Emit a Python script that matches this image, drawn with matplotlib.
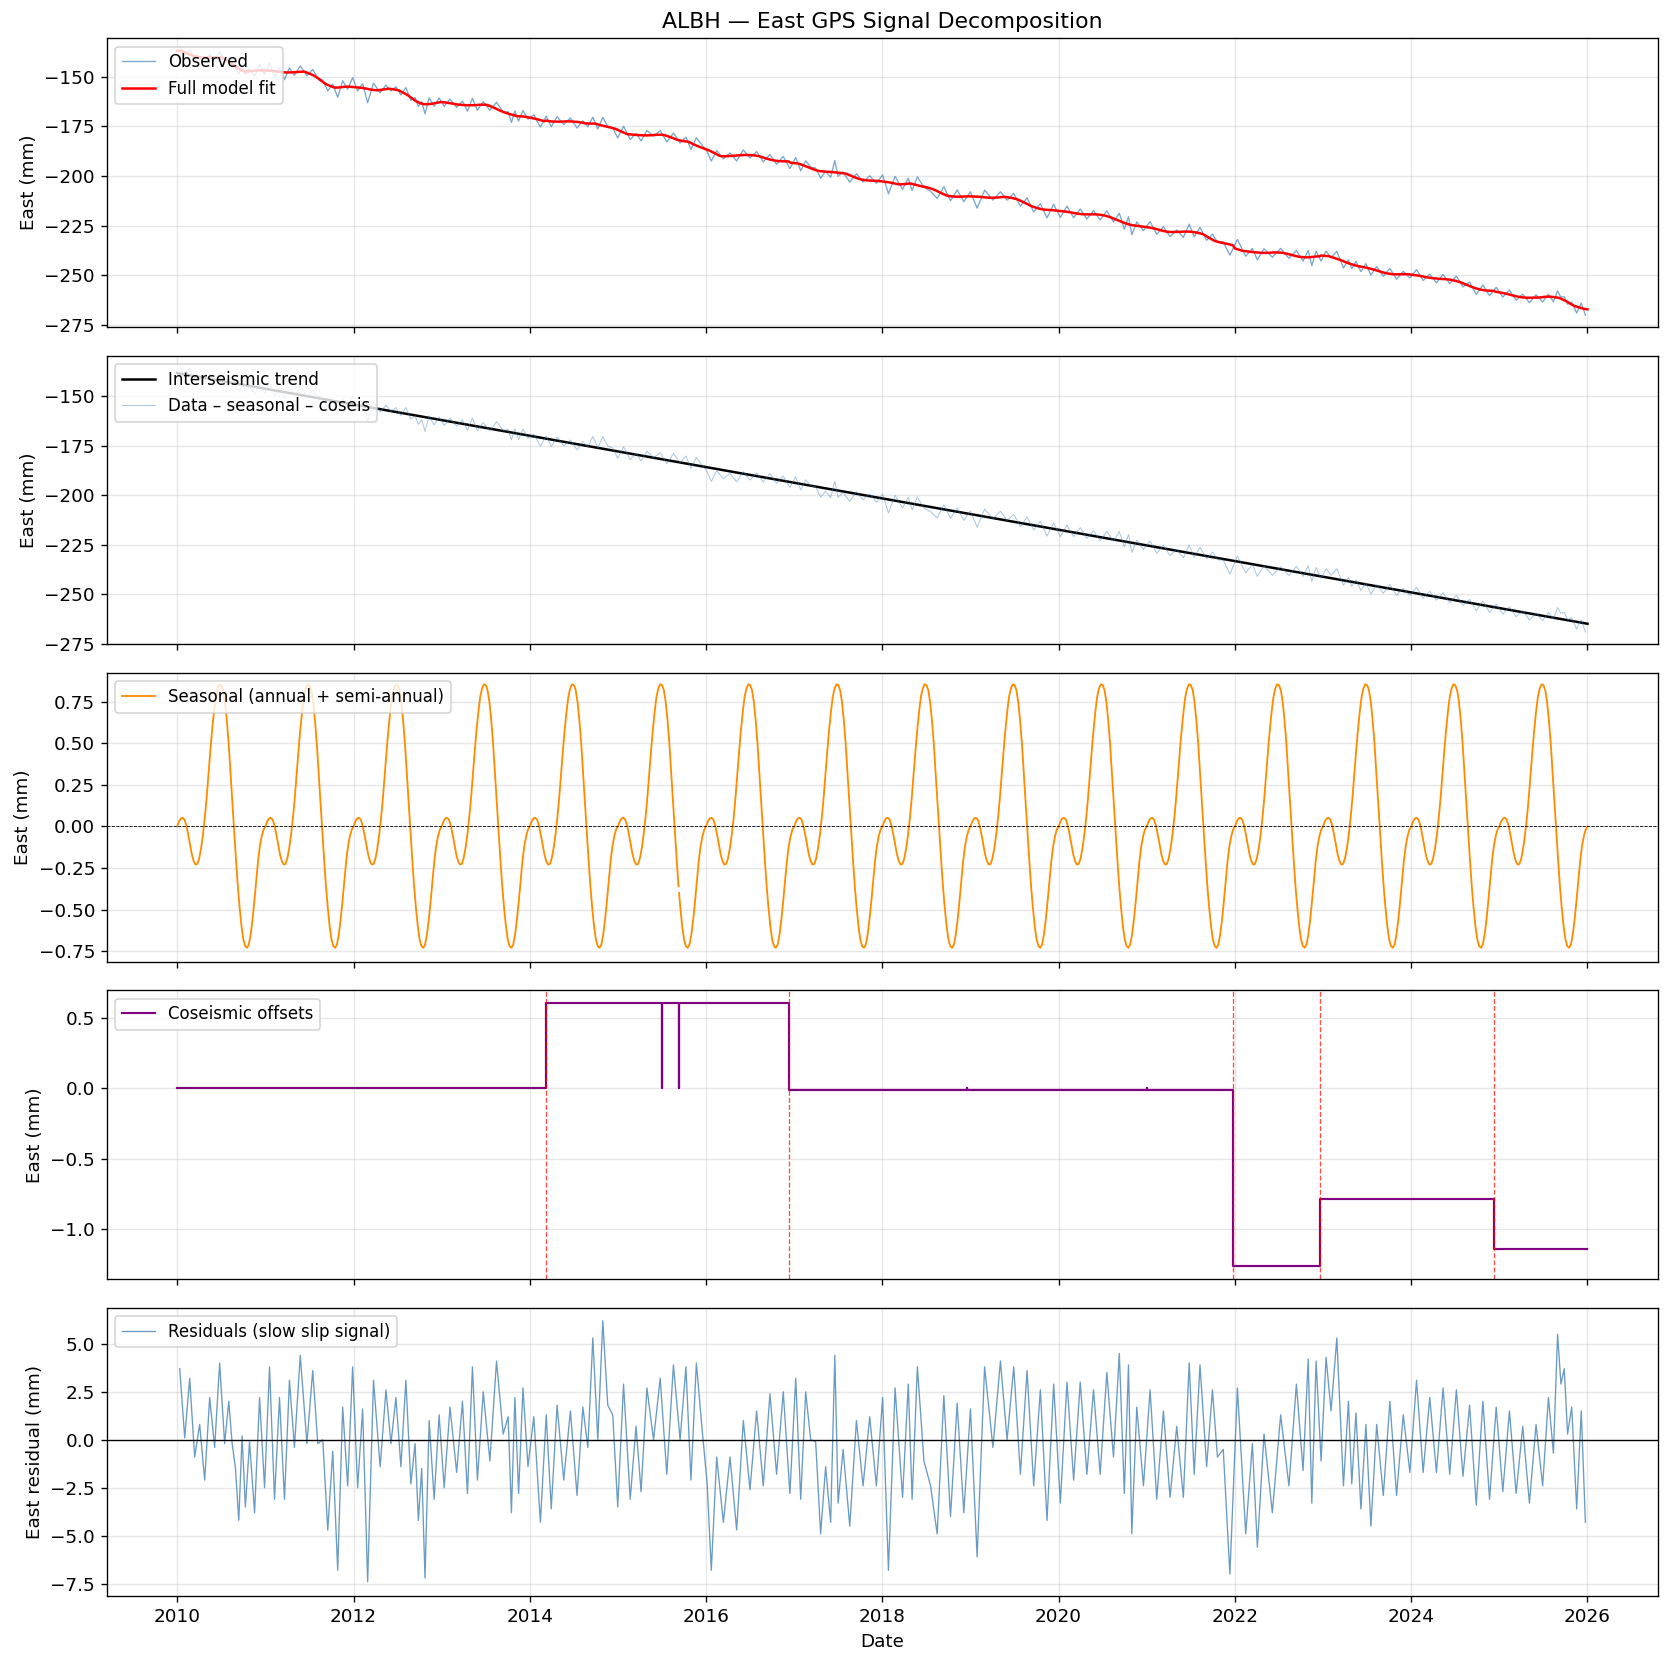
import matplotlib.pyplot as plt
from matplotlib.ticker import MultipleLocator
import numpy as np

# ---- values ----
station = "ALBH"
trend_start, trend_end = -138.5, -264.8      # mm at 2010.0 and 2026.0
t0, t1 = 2010.0, 2026.0

# one seasonal cycle (annual + semi-annual), 48 samples per year
season_cycle = [0.0, 0.03, 0.048, 0.052, 0.04, 0.005, -0.05, -0.11,
                -0.17, -0.21, -0.23, -0.225, -0.19, -0.13, -0.05, 0.05,
                0.17, 0.31, 0.45, 0.58, 0.69, 0.78, 0.83, 0.855,
                0.85, 0.82, 0.75, 0.64, 0.50, 0.33, 0.15, -0.03,
                -0.20, -0.36, -0.49, -0.60, -0.68, -0.72, -0.73, -0.71,
                -0.65, -0.56, -0.45, -0.33, -0.21, -0.12, -0.06, -0.02]
season_gaps = [2015.69, 2018.96]

# coseismic offsets
event_t = [2014.18, 2016.94, 2021.98, 2022.97, 2024.94]
event_level = [0.0, 0.606, -0.015, -1.265, -0.788, -1.144]
spike_t = [2015.50, 2015.69, 2018.96, 2021.00]

# residuals: per chunk start, high and low of the noisy band (mm)
res_t = [2010.000, 2010.113, 2010.226, 2010.340, 2010.453, 2010.566, 2010.642, 2010.717,
         2010.792, 2010.906, 2011.019, 2011.132, 2011.245, 2011.358, 2011.509, 2011.623,
         2011.736, 2011.849, 2011.962, 2012.075, 2012.189, 2012.340, 2012.453, 2012.566,
         2012.679, 2012.755, 2012.830, 2012.943, 2013.057, 2013.208, 2013.321, 2013.434,
         2013.585, 2013.736, 2013.810, 2013.894, 2014.008, 2014.158, 2014.272, 2014.423,
         2014.574, 2014.687, 2014.800, 2014.913, 2015.026, 2015.177, 2015.291, 2015.442,
         2015.592, 2015.743, 2015.857, 2015.989, 2016.083, 2016.234, 2016.385, 2016.536,
         2016.687, 2016.838, 2016.989, 2017.102, 2017.215, 2017.328, 2017.442, 2017.517,
         2017.668, 2017.819, 2017.970, 2018.102, 2018.272, 2018.360, 2018.509, 2018.660,
         2018.811, 2018.962, 2019.113, 2019.302, 2019.453, 2019.604, 2019.755, 2019.906,
         2020.057, 2020.208, 2020.358, 2020.509, 2020.660, 2020.774, 2020.849, 2021.000,
         2021.151, 2021.302, 2021.453, 2021.566, 2021.717, 2021.830, 2021.981, 2022.170,
         2022.283, 2022.472, 2022.660, 2022.811, 2022.893, 2023.006, 2023.119, 2023.269,
         2023.345, 2023.458, 2023.571, 2023.721, 2023.872, 2024.023, 2024.173, 2024.324,
         2024.475, 2024.625, 2024.776, 2024.927, 2025.077, 2025.228, 2025.379, 2025.529,
         2025.642, 2025.718, 2025.793, 2025.906]
res_hi = [3.7, 3.2, 0.8, 2.2, 4.0, 2.0, -1.5, 0.2,
          -0.1, 2.2, 3.8, 2.2, 3.1, 4.4, 3.6, 0.0,
          -0.6, 1.7, 3.8, 1.6, 3.1, 2.6, 2.2, 3.1,
          -0.2, -1.5, 1.0, 1.3, 1.7, 2.0, 3.8, 2.5,
          4.1, 1.2, 2.2, 2.7, 1.2, 1.3, 1.8, 1.5,
          1.7, 5.3, 6.2, 1.3, 2.9, 0.7, 2.7, 3.2,
          3.9, 3.8, 4.0, -2.3, -0.9, -0.9, 1.0, 1.5,
          2.4, 2.5, 3.2, 2.5, -0.1, -1.4, 4.4, -0.5,
          1.0, 1.2, 2.2, 2.7, 2.9, 3.8, -2.4, 2.3,
          1.9, 1.6, 3.8, 4.1, 3.8, 3.6, 2.6, 2.9,
          3.0, 3.0, 2.6, 3.5, 4.5, 3.9, 1.7, 2.6,
          1.5, 0.7, 4.0, 3.9, 2.6, -0.5, 2.7, -0.2,
          0.3, 1.3, 2.9, 4.2, 4.1, 4.3, 5.3, 2.0,
          1.4, 0.8, 0.8, 2.0, 1.3, 3.1, 2.2, 2.7,
          2.6, 1.8, 2.0, 1.7, 1.5, 0.7, 0.8, 2.2,
          5.5, 3.7, 1.7, 1.5]
res_lo = [0.1, -0.9, -2.1, -0.4, -0.2, -0.2, -4.2, -3.5,
          -3.8, -2.5, -3.1, -3.1, -0.4, -0.2, -0.2, -4.7,
          -6.8, -2.4, -2.5, -7.4, -1.4, -0.2, -1.4, -2.3,
          -4.2, -7.2, -3.1, -2.5, -1.7, -2.8, -2.1, -1.1,
          0.3, -3.8, -2.8, -1.4, -4.3, -3.6, -2.1, -2.9,
          -0.4, 0.0, 1.8, -3.5, -3.1, -2.7, 0.0, -1.8,
          0.0, -2.1, 0.5, -6.8, -4.3, -4.7, -2.6, -2.4,
          -1.8, -2.8, -3.1, 0.0, -4.9, -4.3, -3.3, -4.5,
          -2.4, -2.4, -6.8, -3.0, -3.1, -1.1, -4.9, -4.0,
          -3.8, -6.1, -0.4, 0.0, -1.8, -2.4, -4.2, -3.3,
          -2.1, -1.8, -1.8, -0.9, -2.8, -4.9, -2.4, -3.1,
          -3.0, -3.0, -1.8, -1.4, -0.9, -7.0, -4.9, -5.6,
          -3.8, -2.4, -1.6, -3.3, -1.1, 1.5, -2.4, -2.3,
          -3.6, -4.5, -2.9, -2.9, -1.7, -1.7, -1.7, -1.8,
          -1.9, -3.4, -3.1, -2.7, -2.8, -3.3, -2.4, -0.7,
          2.9, 0.3, -3.6, -4.3]

plt.rcParams['font.size'] = 11
plt.rcParams['legend.fontsize'] = 10

# ---- build series ----
def trend(x):
    return trend_start + (trend_end - trend_start) * (np.asarray(x) - t0) / (t1 - t0)

n_years = int(t1 - t0)
per = len(season_cycle)
ts = t0 + np.arange(n_years * per + 1) / per
ss = np.array(season_cycle * n_years + [season_cycle[0]])

def seasonal(x):
    return np.interp(x, ts, ss)

def coseis(x):
    return np.array(event_level)[np.searchsorted(event_t, x, side='right')]

# seasonal line with short data gaps
ts_plot, ss_plot = list(ts), list(ss)
for g in season_gaps:
    for xg, yg in [(g - 0.004, seasonal(g - 0.004)), (g, np.nan), (g + 0.004, seasonal(g + 0.004))]:
        i = np.searchsorted(ts_plot, xg)
        ts_plot.insert(i, xg)
        ss_plot.insert(i, yg)

# coseismic step path
bounds = [t0] + event_t + [t1]
cx, cy = [], []
for i, lev in enumerate(event_level):
    a, b = bounds[i], bounds[i + 1]
    cx.append(a); cy.append(lev)
    for s in spike_t:
        if a < s < b:
            cx += [s, s, s]; cy += [lev, 0.0, lev]
    cx.append(b); cy.append(lev)

# residual zigzag
rt = np.array(res_t)
rw = np.diff(np.append(rt, t1))
rx = np.ravel(np.column_stack([rt + 0.25 * rw, rt + 0.75 * rw]))
ry = np.ravel(np.column_stack([res_hi, res_lo]))

obs = trend(rx) + seasonal(rx) + coseis(rx) + ry
clean = obs - seasonal(rx) - coseis(rx)

mid = (np.array(res_hi) + np.array(res_lo)) / 2
mid_s = np.convolve(np.pad(mid, 1, mode='edge'), np.ones(3) / 3, mode='valid')
fit_x = ts
fit = trend(fit_x) + seasonal(fit_x) + coseis(fit_x) + np.interp(fit_x, rt + rw / 2, mid_s)

# ---- figure ----
fig, axes = plt.subplots(5, 1, figsize=(1670 / 120, 1664 / 120), dpi=120, sharex=True)
fig.subplots_adjust(left=0.0639, right=0.9928, top=0.977, bottom=0.0406, hspace=0.099)
ax1, ax2, ax3, ax4, ax5 = axes

ax1.plot(rx, obs, color='steelblue', lw=0.8, alpha=0.7, label='Observed')
ax1.plot(fit_x, fit, color='red', lw=1.5, label='Full model fit')
ax1.set_ylim(-276.1, -130.6)
ax1.yaxis.set_major_locator(MultipleLocator(25))
ax1.set_ylabel('East (mm)')
ax1.set_title(f'{station} \u2014 East GPS Signal Decomposition')

ax2.plot([t0, t1], trend([t0, t1]), color='black', lw=1.5, label='Interseismic trend')
ax2.plot(rx, clean, color='steelblue', lw=0.6, alpha=0.45, label='Data \u2013 seasonal \u2013 coseis')
ax2.set_ylim(-275.2, -129.7)
ax2.yaxis.set_major_locator(MultipleLocator(25))
ax2.set_ylabel('East (mm)')

ax3.plot(ts_plot, ss_plot, color='darkorange', lw=1.1, label='Seasonal (annual + semi-annual)')
ax3.axhline(0, color='black', ls='--', lw=0.5)
ax3.set_ylim(-0.814, 0.923)
ax3.set_ylabel('East (mm)')

ax4.plot(cx, cy, color='purple', lw=1.3, label='Coseismic offsets')
for ev in event_t:
    ax4.axvline(ev, color='red', ls='--', lw=0.8, alpha=0.7)
ax4.set_ylim(-1.356, 0.697)
ax4.set_ylabel('East (mm)')

ax5.plot(rx, ry, color='steelblue', lw=0.8, alpha=0.8, label='Residuals (slow slip signal)')
ax5.axhline(0, color='black', lw=0.8)
ax5.set_ylim(-8.16, 6.88)
ax5.yaxis.set_major_locator(MultipleLocator(2.5))
ax5.set_ylabel('East residual (mm)')
ax5.set_xlabel('Date')

for ax in axes:
    ax.grid(True, alpha=0.3)
    ax.legend(loc='upper left')
ax5.set_xlim(2009.2, 2026.8)
ax5.set_xticks(range(2010, 2027, 2))
ax5.set_xticklabels([str(y) for y in range(2010, 2027, 2)])

fig.savefig('out.png', dpi=120)
